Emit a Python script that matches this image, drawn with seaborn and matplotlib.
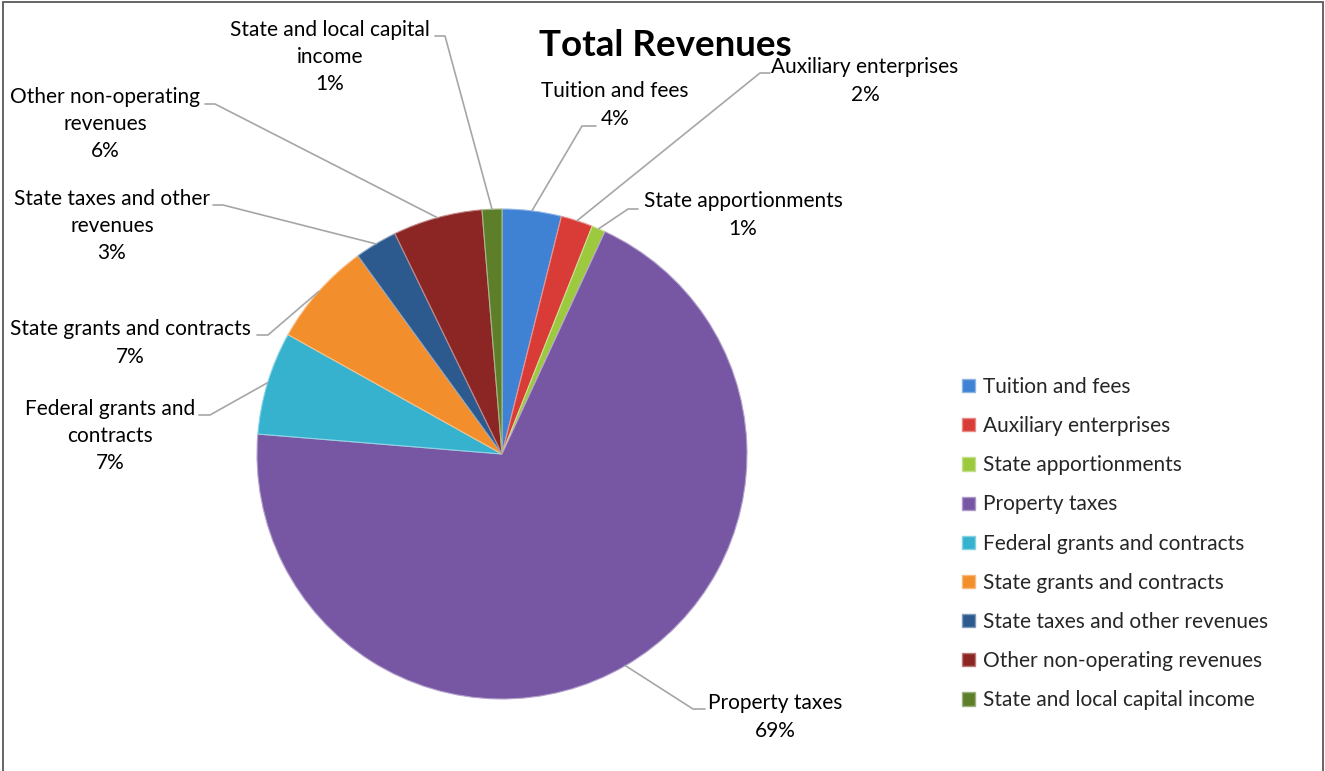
import matplotlib
matplotlib.use("Agg")
import numpy as np
import matplotlib.pyplot as plt
import seaborn as sns
from matplotlib.patches import Patch, Rectangle

# data
categories = ["Tuition and fees", "Auxiliary enterprises", "State apportionments",
              "Property taxes", "Federal grants and contracts", "State grants and contracts",
              "State taxes and other revenues", "Other non-operating revenues",
              "State and local capital income"]
shares = [3.9, 2.1, 0.9, 69.4, 6.8, 6.9, 2.8, 5.9, 1.3]
slice_labels = ["Tuition and fees", "Auxiliary enterprises", "State apportionments",
                "Property taxes", "Federal grants and\ncontracts", "State grants and contracts",
                "State taxes and other\nrevenues", "Other non-operating\nrevenues",
                "State and local capital\nincome"]
colors = ["#3F82D3", "#D93C37", "#9DC93F", "#7757A3", "#36B2CF", "#F28E2B",
          "#2C5A8E", "#8C2624", "#5E7F2A"]

# label layout in pixel coords (y down): text centre, elbow, end of leader
W, H = 1325, 771
layout = [
    ((615, 105), (582, 126), (596, 126)),
    ((865, 81), (760, 73), (770, 73)),
    ((743, 215), (628, 209), (638, 209)),
    ((775, 717), (693, 709), (705, 709)),
    ((110, 436), (210, 415), (199, 415)),
    ((130, 343), (268, 335), (257, 335)),
    ((112, 226), (223, 205), (213, 205)),
    ((105, 124), (215, 104), (205, 104)),
    ((330, 57), (445, 36), (435, 36)),
]
cx, cy, radius = 502, 454, 245

sns.set_theme(style="white")
plt.rcParams['font.family'] = ['Lato', 'DejaVu Sans']

fig = plt.figure(figsize=(W / 100, H / 100), dpi=100)
ax = fig.add_axes([0, 0, 1, 1])

def lighten(c, amt=0.35):
    rgb = np.array(matplotlib.colors.to_rgb(c))
    return tuple(rgb + (1 - rgb) * amt)

wedges, _ = ax.pie(shares, colors=colors, startangle=90, counterclock=False,
                   center=(cx, H - cy), radius=radius,
                   wedgeprops=dict(linewidth=0.8, edgecolor="white"))
for w, c in zip(wedges, colors):
    w.set_edgecolor(lighten(c, 0.45))

ax.set_xlim(0, W)
ax.set_ylim(0, H)
ax.set_aspect("auto")
ax.axis("off")

total = sum(shares)
for w, lab, v, (tpos, elbow, end) in zip(wedges, slice_labels, shares, layout):
    mid = np.deg2rad((w.theta1 + w.theta2) / 2)
    ax_, ay_ = cx + radius * np.cos(mid), (H - cy) + radius * np.sin(mid)
    ax.plot([ax_, elbow[0], end[0]], [ay_, H - elbow[1], H - end[1]],
            color="#A6A6A6", lw=1.2, zorder=1)
    ax.text(tpos[0], H - tpos[1], f"{lab}\n{round(v / total * 100):.0f}%",
            ha="center", va="center", fontsize=15, color="black", linespacing=1.46)

ax.text(665, H - 45, "Total Revenues", ha="center", va="center",
        fontsize=26.5, fontweight="bold", color="black")

handles = [Patch(facecolor=c, edgecolor=lighten(c, 0.4), label=n) for c, n in zip(colors, categories)]
fig.legend(handles=handles, loc="upper left", bbox_to_anchor=(962 / W, 1 - 377 / H),
           frameon=False, fontsize=15, handlelength=0.6, handleheight=0.6,
           handletextpad=0.4, labelspacing=0.92, borderpad=0, borderaxespad=0)

fig.patches.append(Rectangle((3 / W, -0.01), 1320 / W, 1 - 1.5 / H + 0.01, transform=fig.transFigure,
                             fill=False, edgecolor="#595959", linewidth=1.3))

fig.savefig("out.png", dpi=100)
